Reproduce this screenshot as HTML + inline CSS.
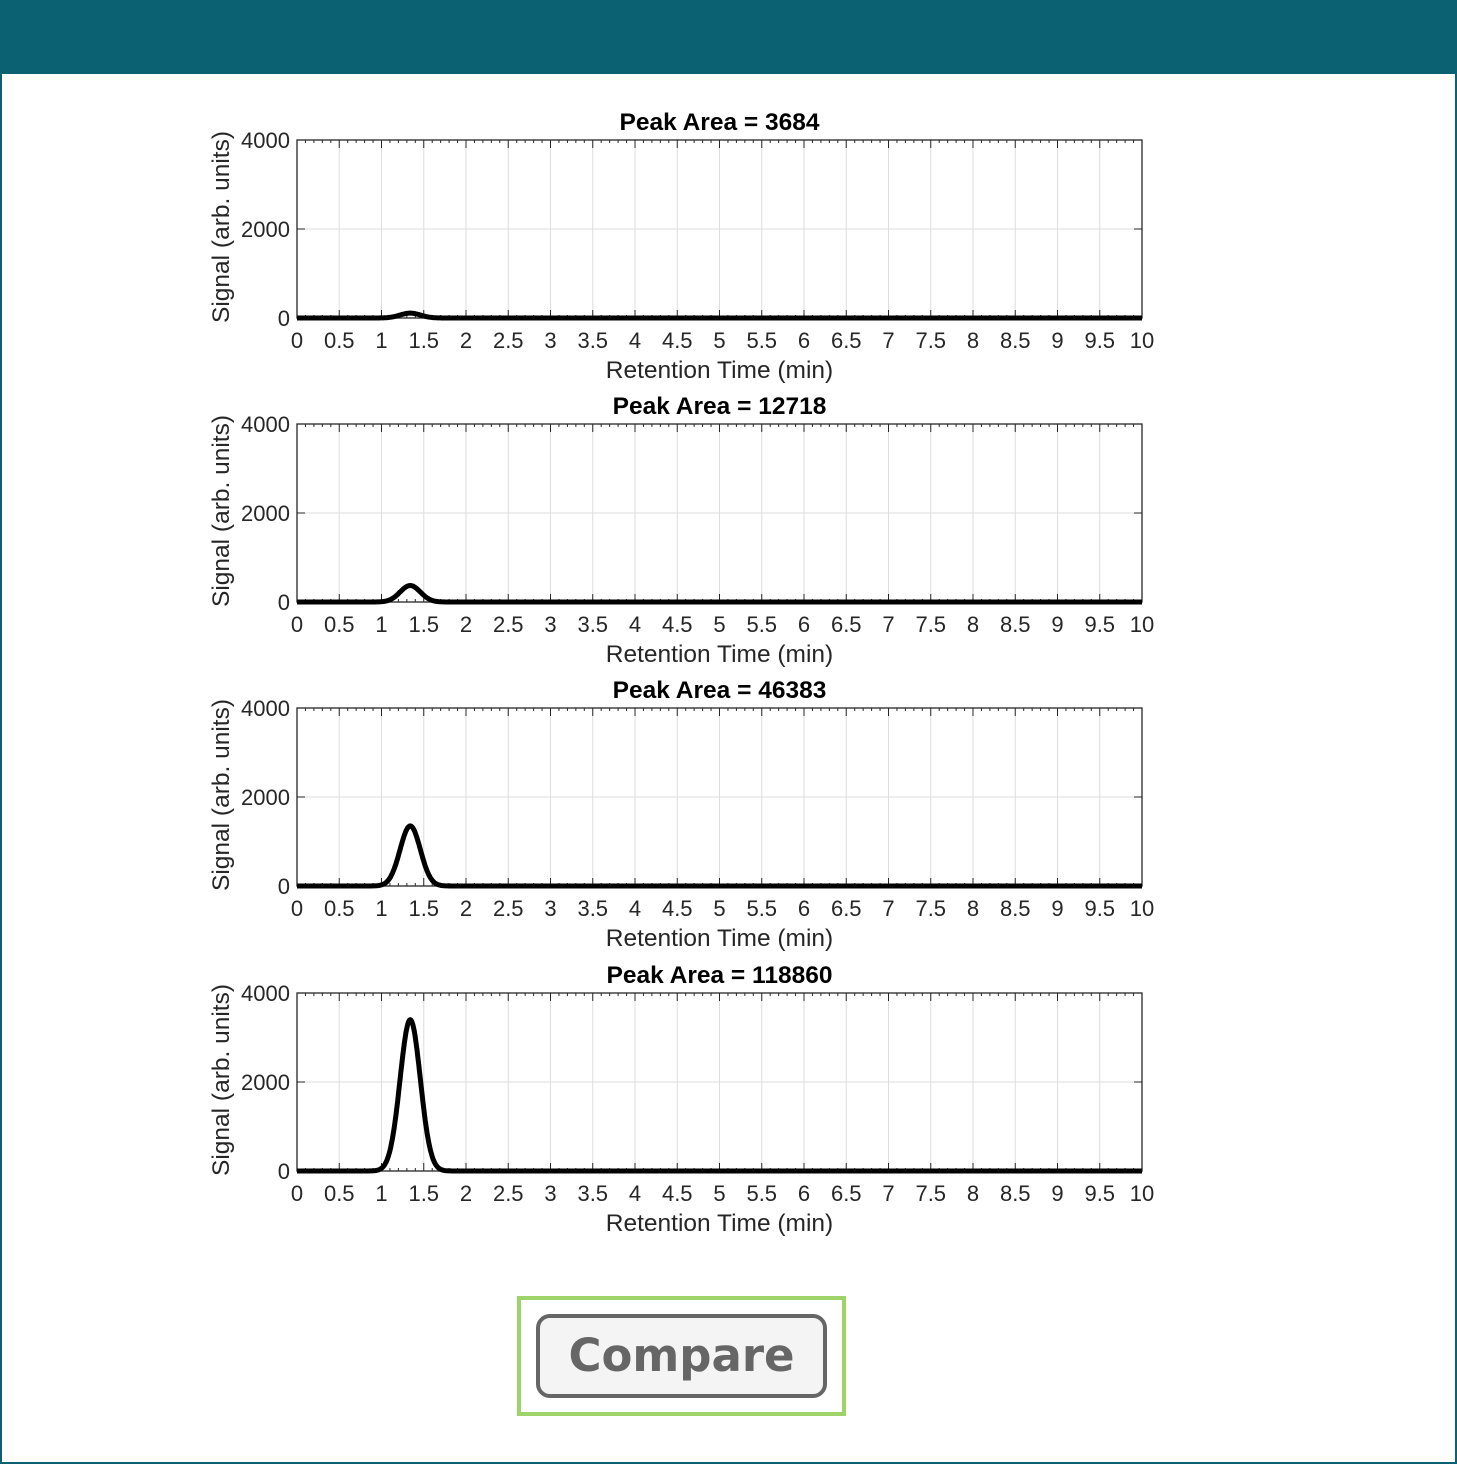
<!DOCTYPE html>
<html><head><meta charset="utf-8"><style>
html,body{margin:0;padding:0;background:#fff}
body{width:1457px;height:1464px;position:relative;overflow:hidden;font-family:"Liberation Sans",sans-serif}
#frame{position:absolute;left:0;top:0;width:1453px;height:1460px;border:2px solid #0b6171}
#header{position:absolute;left:0;top:0;width:1457px;height:74px;background:#0b6171}
#btnbox{position:absolute;left:517px;top:1296px;width:321px;height:112px;border:4px solid #9ed36a;box-sizing:content-box}
#btn{position:absolute;left:536px;top:1314px;width:283px;height:76px;border:4px solid #666;border-radius:14px;background:#f4f4f4;color:#666;font:bold 45px "DejaVu Sans","Liberation Sans",sans-serif;text-align:center;line-height:76px;box-sizing:content-box}
</style></head><body>
<div id="frame"></div>
<div id="header"></div>
<svg id="chart" width="1457" height="1464" style="position:absolute;left:0;top:0"></svg>
<div id="btnbox"></div>
<div id="btn">Compare</div>
<script>
const peakAreas=[3684,12718,46383,118860];
const peakHeights=[110,370,1350,3400];
const peakCenters=[1.34,1.34,1.34,1.34];
const peakWidths=[0.12,0.12,0.12,0.12];
const xTicks=[0,0.5,1,1.5,2,2.5,3,3.5,4,4.5,5,5.5,6,6.5,7,7.5,8,8.5,9,9.5,10];
const yTicks=[0,2000,4000];
const panelTops=[140,424,708,993];
const X0=297,X1=1142,H=178,XMAX=10,YMAX=4000;
const svg=document.getElementById('chart');
const NS='http://www.w3.org/2000/svg';
function mk(t,a,p){const e=document.createElementNS(NS,t);for(const k in a)e.setAttribute(k,a[k]);p.appendChild(e);return e;}
const xs=v=>X0+(v/XMAX)*(X1-X0);
panelTops.forEach((top,i)=>{
  const ys=v=>top+H-(v/YMAX)*H;
  const g=mk('g',{},svg);
  
  
  xTicks.forEach(t=>{if(t>0&&t<10)mk('line',{x1:xs(t),x2:xs(t),y1:top,y2:top+H,stroke:'#dedede','stroke-width':1},g);});
  yTicks.forEach(t=>{if(t>0&&t<4000)mk('line',{x1:X0,x2:X1,y1:ys(t),y2:ys(t),stroke:'#dedede','stroke-width':1},g);});
  for(let m=0;m<=100;m++){const x=xs(m/10);mk('line',{x1:x,x2:x,y1:top,y2:top+(m%5?3:8),stroke:'#262626','stroke-width':1},g);mk('line',{x1:x,x2:x,y1:top+H,y2:top+H-(m%5?3:8),stroke:'#262626','stroke-width':1},g);}
  yTicks.forEach(t=>{mk('line',{x1:X0,x2:X0+8,y1:ys(t),y2:ys(t),stroke:'#262626'},g);mk('line',{x1:X1,x2:X1-8,y1:ys(t),y2:ys(t),stroke:'#262626'},g);
    const l=mk('text',{x:X0-7,y:ys(t)+8,'text-anchor':'end','font-size':22,fill:'#262626'},g);l.textContent=t;
    });
  xTicks.forEach(t=>{const l=mk('text',{x:xs(t),y:top+H+30,'text-anchor':'middle','font-size':22,fill:'#262626'},g);l.textContent=t;
    });
  mk('rect',{x:X0,y:top,width:X1-X0,height:H,fill:'none',stroke:'#262626','stroke-width':1.3},g);
  let d='';
  for(let k=0;k<=1000;k++){const t=k/100;const v=peakHeights[i]*Math.exp(-0.5*Math.pow((t-peakCenters[i])/peakWidths[i],2));d+=(k?'L':'M')+xs(t).toFixed(1)+' '+ys(v).toFixed(1);}
  const p=mk('path',{d:d,fill:'none',stroke:'#000','stroke-width':5,'stroke-linejoin':'round'},g);
  
  const ti=mk('text',{x:(X0+X1)/2,y:top-10,'text-anchor':'middle','font-size':24.5,'font-weight':'bold',fill:'#000'},g);
  ti.textContent='Peak Area = '+peakAreas[i];
  
  const xl=mk('text',{x:(X0+X1)/2,y:top+H+60,'text-anchor':'middle','font-size':24.5,fill:'#262626'},g);
  xl.textContent='Retention Time (min)';
  
  const yl=mk('text',{x:0,y:0,'text-anchor':'middle','font-size':24.5,fill:'#262626',transform:`translate(229,${top+H/2-2}) rotate(-90)`},g);
  yl.textContent='Signal (arb. units)';
  
});
</script>
</body></html>
